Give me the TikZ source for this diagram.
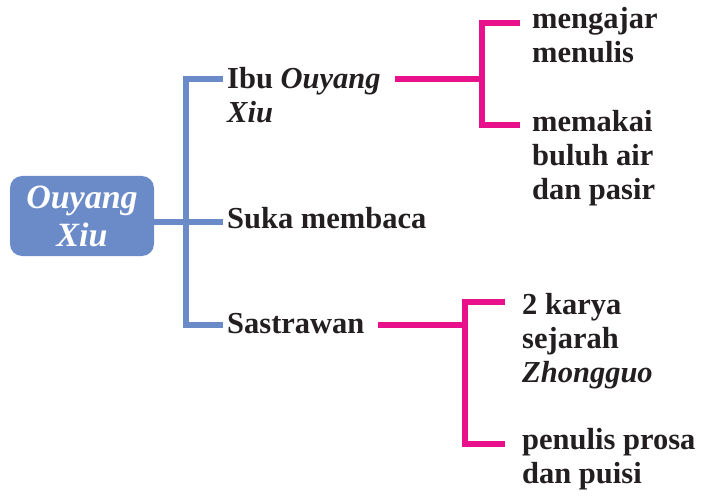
\documentclass[tikz,border=0pt]{standalone}
\usepackage{fontspec}
\setmainfont{Liberation Serif}
\usetikzlibrary{positioning}

\definecolor{mapblue}{HTML}{6B8BC8}
\definecolor{mappink}{HTML}{E9108C}
\definecolor{maptext}{HTML}{231F20}

\tikzset{
  leaf/.style={anchor=base west, inner sep=0pt, align=left, text=maptext,
    font=\fontsize{30.5}{34}\selectfont\bfseries},
  rootbox/.style={fill=mapblue, rounded corners=12pt, minimum width=144pt,
    minimum height=80pt, inner sep=0pt, align=center, text=white,
    font=\fontsize{34}{38}\selectfont\bfseries\itshape},
  bluelink/.style={mapblue, line width=6pt},
  pinklink/.style={mappink, line width=6pt}
}

\begin{document}
\begin{tikzpicture}[x=1pt, y=-1pt]
  \useasboundingbox (0,0) rectangle (701,497);

  % Root
  \node[rootbox] (root) at (82,216) {Ouyang\\Xiu};

  % First level (base = baseline of last line)
  \node[leaf] (ibu) at (227,123) {Ibu \textit{Ouyang}\\\textit{Xiu}};
  \node[leaf] (suka) at (227,229) {Suka membaca};
  \node[leaf] (sastra) at (227,333) {Sastrawan};

  % Second level
  \node[leaf] (ajar) at (532,63) {mengajar\\menulis};
  \node[leaf] (pakai) at (532,200) {memakai\\buluh air\\dan pasir};
  \node[leaf] (karya) at (522,382) {2 karya\\sejarah\\\textit{Zhongguo}};
  \node[leaf] (prosa) at (522,483) {penulis prosa\\dan puisi};

  % Blue bracket
  \coordinate (spine top) at (186,79);
  \coordinate (spine bot) at (186,325);
  \coordinate (ibu in) at (223,79);
  \coordinate (suka in) at (223,222);
  \coordinate (sastra in) at (223,325);
  \draw[bluelink] (root.east |- suka in) -- (suka in);
  \draw[bluelink] (ibu in) -- (spine top) -- (spine bot) -- (sastra in);

  % Pink bracket, upper
  \coordinate (ibu out) at (395,79);
  \coordinate (ibu top) at (482,23);
  \coordinate (ibu bot) at (482,125);
  \coordinate (ajar in) at (520,23);
  \coordinate (pakai in) at (520,125);
  \draw[pinklink] (ibu out) -- (ibu top |- ibu out);
  \draw[pinklink] (ajar in) -- (ibu top) -- (ibu bot) -- (pakai in);

  % Pink bracket, lower
  \coordinate (sastra out) at (378,325);
  \coordinate (sastra top) at (465,302);
  \coordinate (sastra bot) at (465,444);
  \coordinate (karya in) at (505,302);
  \coordinate (prosa in) at (505,444);
  \draw[pinklink] (sastra out) -- (sastra top |- sastra out);
  \draw[pinklink] (karya in) -- (sastra top) -- (sastra bot) -- (prosa in);
\end{tikzpicture}
\end{document}
